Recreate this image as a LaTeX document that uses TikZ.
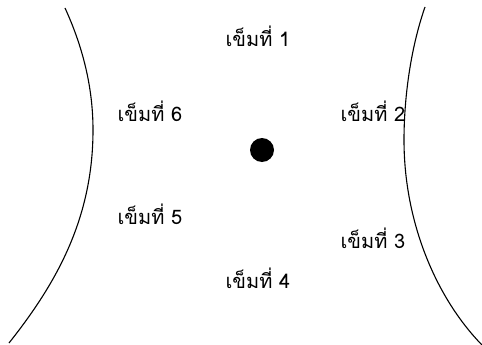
\documentclass[tikz,border=0pt]{standalone}
\usepackage{fontspec}
\newfontfamily\thaifont[Script=Thai]{Loma}
\usepackage{tikz}

\tikzset{
  needle/.style={font=\thaifont\fontsize{20}{22}\selectfont, inner sep=0pt},
  rim/.style={line width=1.1pt}
}

\begin{document}
\begin{tikzpicture}[x=1pt,y=-1pt]
\useasboundingbox (0,0) rectangle (482,345);

\draw[rim] (65,8) .. controls (88,58) and (93,100) .. (93,130)
  .. controls (93,220) and (55,285) .. (9,343);

\draw[rim] (425,7) .. controls (410,50) and (404,100) .. (404,140)
  .. controls (404,225) and (438,300) .. (482,345);

\node[circle, fill=black, minimum width=24pt, minimum height=22pt, inner sep=0pt] (dot) at (262,150) {};

\node[needle] (n1) at (258,36) {เข็มที่ 1};
\node[needle] (n2) at (373,111) {เข็มที่ 2};
\node[needle] (n3) at (373,238) {เข็มที่ 3};
\node[needle] (n4) at (258,278) {เข็มที่ 4};
\node[needle] (n5) at (150,214) {เข็มที่ 5};
\node[needle] (n6) at (150,111) {เข็มที่ 6};

\end{tikzpicture}
\end{document}
